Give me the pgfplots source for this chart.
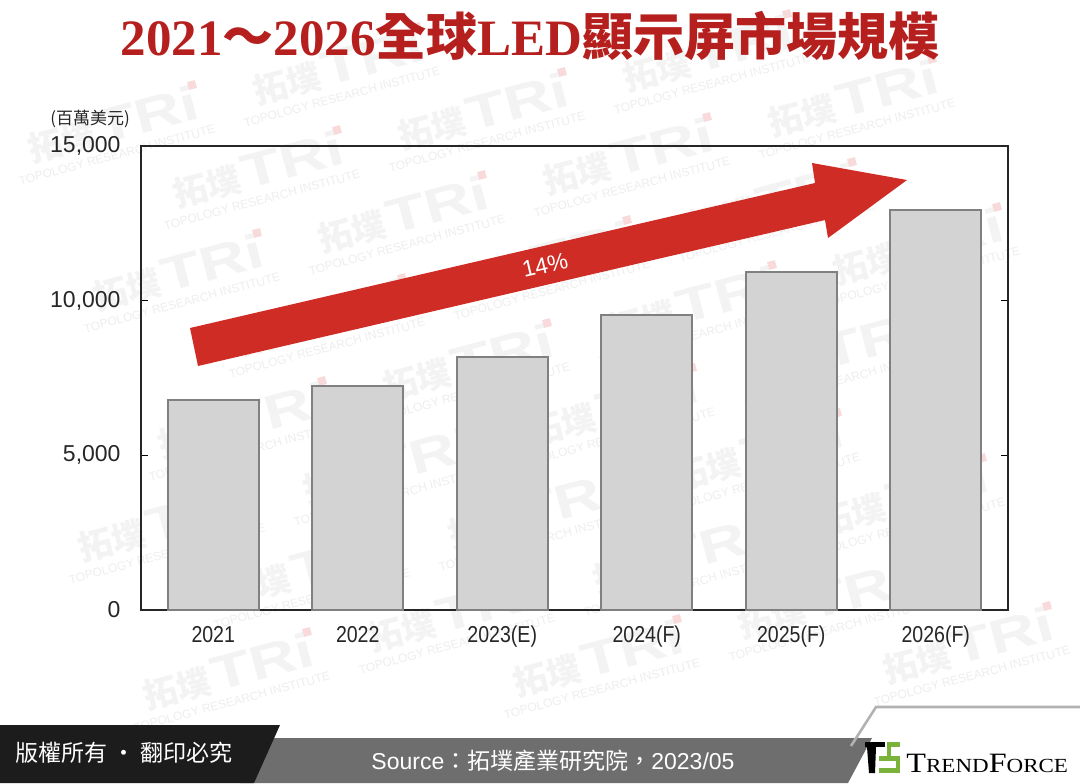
\documentclass[border=0pt]{standalone}
\usepackage{pgfplots}
\usepackage{pgfplotstable}
\pgfplotsset{compat=1.18}
\usepackage{fontspec}
\setmainfont{Liberation Sans}
\newfontfamily\cjk{Noto Sans CJK TC}
\newfontfamily\serifL{Liberation Serif}

\definecolor{titlered}{RGB}{181,32,30}
\definecolor{arrowred}{RGB}{208,44,38}
\definecolor{barfill}{RGB}{211,211,211}
\definecolor{baredge}{RGB}{128,128,128}
\definecolor{wmlogo}{RGB}{243,243,243}
\definecolor{wmtext}{RGB}{238,238,238}
\definecolor{wmdot}{RGB}{248,218,218}
\definecolor{bandblack}{RGB}{28,28,28}
\definecolor{bandgrey}{RGB}{110,110,110}
\definecolor{edgegrey}{RGB}{178,178,178}
\definecolor{tfgreen}{RGB}{122,178,58}

% market size, million USD
\pgfplotstableread{
idx value
0 6790
1 7250
2 8180
3 9540
4 10930
5 12930
}\marketdata

\begin{document}
\begin{tikzpicture}[x=0.5pt,y=-0.5pt]
\useasboundingbox (0,0) rectangle (1080,783);
\fill[white] (0,0) rectangle (1080,783);

% tiled watermark (only whole tiles inside the page)
\foreach \a in {-5,...,7}{
  \foreach \b in {-2,...,5}{
    \pgfmathsetmacro\cx{262+145*\a+65*\b}
    \pgfmathsetmacro\cy{200+45*\a+148*\b}
    \pgfmathtruncatemacro\inside{and(and(\cx>105,\cx<975),and(\cy>75,\cy<715))}
    \ifnum\inside=1
      \node[rotate=15, text=wmtext, inner sep=0,
            font=\fontsize{6}{7}\selectfont] at (\cx,\cy) {TOPOLOGY RESEARCH INSTITUTE};
      \node[rotate=15, text=wmlogo, inner sep=0] at (\cx-4,\cy-30)
        {{\cjk\bfseries\fontsize{17}{18}\selectfont 拓墣}\,\scalebox{1.35}[1]{\bfseries\fontsize{24}{26}\selectfont TRi}};
      \fill[wmdot, rotate around={15:(\cx+75,\cy-70)}] (\cx+71,\cy-74) rectangle (\cx+79,\cy-66);
    \fi
  }
}

% title
\node[text=titlered, inner sep=0] at (530,36)
  {\fontsize{25.5}{28}\selectfont\bfseries\serifL 2021{\cjk ～}2026{\cjk 全球}LED{\cjk 顯示屏市場規模}};

% unit label
\node[anchor=west, inner sep=0, text=black!85] at (50,119)
  {\cjk\fontsize{8.5}{10}\selectfont (百萬美元)};

\begin{axis}[
  at={(70.5pt,-305pt)}, anchor=south west,
  width=433.5pt, height=232pt, scale only axis,
  xmin=-0.5, xmax=5.5, ymin=0, ymax=15000,
  ybar, bar width=45.5pt,
  xtick={0,...,5},
  xticklabels={2021,2022,2023(E),2024(F),2025(F),2026(F)},
  x tick style={draw=none},
  ytick={0,5000,10000,15000},
  scaled y ticks=false,
  yticklabel style={/pgf/number format/1000 sep={,}, xshift=-6.7pt},
  /pgf/number format/assume math mode=true,
  tick align=inside, major tick length=3.5pt,
  y tick style={black, line width=0.6pt},
  axis line style={black!85, line width=0.7pt},
  ticklabel style={font=\fontsize{11.5}{13}\selectfont, text=black!85},
  xticklabel style={xscale=0.85, yshift=-4.5pt},
]
\addplot[fill=barfill, draw=baredge, line width=0.8pt] table[x=idx, y=value]{\marketdata};
\end{axis}

% growth arrow
\fill[arrowred] (190,328) -- (815,183) -- (812,163) -- (907,180)
  -- (828,238) -- (825,220) -- (198,366) -- cycle;
\node[text=white, rotate=13.1, inner sep=0] at (545,265)
  {\fontsize{11.5}{13}\selectfont 14\%};

% footer band
\fill[bandgrey] (240,738) -- (872,738) -- (848,783) -- (240,783) -- cycle;
\fill[bandblack] (0,725) -- (280,725) -- (254,783) -- (0,783) -- cycle;
\draw[edgegrey, line width=1.3pt] (1080,707) -- (876,707) -- (851,746);
\node[text=white, inner sep=0] at (124,753)
  {\cjk\fontsize{11.5}{13}\selectfont 版權所有 · 翻印必究};
\node[text=white, inner sep=0] at (553,761)
  {\fontsize{11.5}{13}\selectfont Source{\cjk ：拓墣產業研究院，}2023/05};

% TrendForce logo
\fill[black] (865,742) rectangle (885,747);
\fill[black] (867,747) -- (876,747) -- (875,773) -- (869,773) -- cycle;
\fill[tfgreen] (887,742) rectangle (900,747);
\fill[tfgreen] (887,742) rectangle (891,760);
\fill[tfgreen] (879,756) rectangle (900,761);
\fill[tfgreen] (896,756) rectangle (900,773);
\fill[tfgreen] (879,768) rectangle (900,773);
\node[anchor=base west, inner sep=0, xscale=1.15] at (906,772)
  {\serifL\fontsize{14}{16}\selectfont T\fontsize{10}{12}\selectfont REND\fontsize{14}{16}\selectfont F\fontsize{10}{12}\selectfont ORCE};
\end{tikzpicture}
\end{document}
